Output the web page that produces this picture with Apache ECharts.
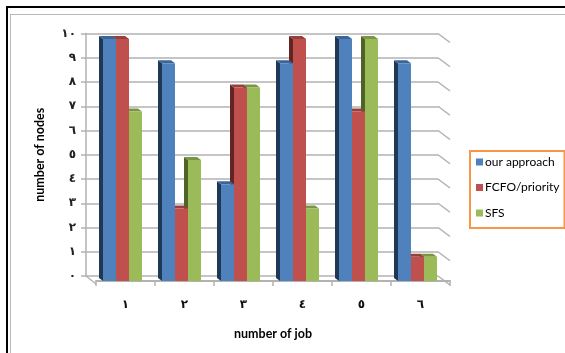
<!DOCTYPE html>
<html>
<head>
<meta charset="utf-8">
<style>html,body{margin:0;padding:0;background:#fff}#chart{width:565px;height:353px}</style>
<script src="https://cdn.jsdelivr.net/npm/echarts@6/dist/echarts.min.js"></script>
</head>
<body>
<div id="chart"></div>
<script>
// Jobs on the horizontal axis and node counts per scheduling scheme
const jobLabels = ['١', '٢', '٣', '٤', '٥', '٦'];
const nodeTickLabels = ['٠', '١', '٢', '٣', '٤', '٥', '٦', '٧', '٨', '٩', '١٠'];
const nodeTicks = [0, 1, 2, 3, 4, 5, 6, 7, 8, 9, 10];
const ourApproach = [10, 9, 4, 9, 10, 9];
const fcfoPriority = [10, 3, 8, 10, 7, 1];
const sfs = [7, 5, 8, 3, 10, 1];

const uiFont = 'Lato, "Open Sans", sans-serif';
const digitFont = '"DejaVu Sans", sans-serif';
const wallGrey = '#b2b2b2';

// Face colours for the extruded columns: front, top, left side
const palettes = [
  { front: '#4f81bd', top: '#3a6697', side: '#1f3856' },
  { front: '#c0504d', top: '#96403d', side: '#632523' },
  { front: '#9bbb59', top: '#7a9644', side: '#4f6228' }
];

const barWidth = 13;
const barInset = 7;
const depthX = 4;
const depthY = 3;

// Draws one extruded column; series index picks its slot inside the group
function columnRenderer(slot) {
  return function (params, api) {
    const band = api.size([1, 0])[0];
    const base = api.coord([api.value(0), 0]);
    const head = api.coord([api.value(0), api.value(1)]);
    const x0 = base[0] - band / 2 + barInset + slot * barWidth;
    const x1 = x0 + barWidth;
    const yb = base[1];
    const yt = head[1];
    const p = palettes[slot];
    return {
      type: 'group',
      children: [
        { type: 'polygon', shape: { points: [[x0, yt], [x0 - depthX, yt - depthY], [x0 - depthX, yb - depthY], [x0, yb]] }, style: { fill: p.side } },
        { type: 'polygon', shape: { points: [[x0, yt], [x0 - depthX, yt - depthY], [x1 - depthX, yt - depthY], [x1, yt]] }, style: { fill: p.top } },
        { type: 'rect', shape: { x: x0, y: yt, width: barWidth, height: yb - yt }, style: { fill: p.front } }
      ]
    };
  };
}

function columnSeries(name, values, slot) {
  return {
    name,
    type: 'custom',
    xAxisIndex: 1,
    yAxisIndex: 1,
    z: 10 - slot,
    itemStyle: { color: palettes[slot].front },
    renderItem: columnRenderer(slot),
    encode: { x: 0, y: 1 },
    data: values.map((v, i) => [i, v]),
    silent: true
  };
}

const chart = echarts.init(document.getElementById('chart'), null, { renderer: 'canvas' });
chart.setOption({
  animation: false,
  backgroundColor: '#ffffff',
  // Worksheet frame around the chart
  graphic: [
    { type: 'rect', shape: { x: 6, y: 6, width: 559, height: 2 }, style: { fill: '#000' } },
    { type: 'rect', shape: { x: 6, y: 6, width: 2, height: 347 }, style: { fill: '#000' } },
    { type: 'rect', shape: { x: 10, y: 14, width: 555, height: 1 }, style: { fill: '#b8b8b8' } },
    { type: 'rect', shape: { x: 10, y: 14, width: 1, height: 339 }, style: { fill: '#b8b8b8' } }
  ],
  grid: [
    // Back wall of the chart box
    { left: 86, top: 33.5, width: 352, height: 242.5 },
    // Front plane, where the columns stand
    { left: 96, top: 39, width: 354, height: 242 }
  ],
  xAxis: [
    { gridIndex: 0, type: 'value', min: 0, max: 1, show: false },
    {
      gridIndex: 1,
      type: 'category',
      data: jobLabels,
      offset: 3,
      axisLine: { lineStyle: { color: wallGrey, width: 2 } },
      axisTick: { show: true, alignWithLabel: false, length: 5, lineStyle: { color: wallGrey, width: 1.5 } },
      axisLabel: { color: '#111', fontFamily: digitFont, fontWeight: 'bold', fontSize: 12, margin: 15 },
      name: 'number of job',
      nameLocation: 'middle',
      nameGap: 43,
      nameTextStyle: { color: '#000', fontFamily: uiFont, fontWeight: 'bold', fontSize: 12.5 }
    }
  ],
  yAxis: [
    {
      gridIndex: 0,
      type: 'value',
      min: 0,
      max: 10,
      interval: 1,
      axisLine: { show: true, lineStyle: { color: wallGrey, width: 1.5 } },
      axisTick: { show: true, length: 5, lineStyle: { color: wallGrey, width: 1.5 } },
      axisLabel: {
        color: '#222',
        fontFamily: digitFont,
        fontWeight: 'bold',
        fontSize: 12,
        margin: 10,
        formatter: v => nodeTickLabels[v]
      },
      splitLine: { show: true, lineStyle: { color: wallGrey, width: 1.5 } },
      name: 'number of nodes',
      nameLocation: 'middle',
      nameRotate: 90,
      nameGap: 40,
      nameTextStyle: { color: '#000', fontFamily: uiFont, fontWeight: 'bold', fontSize: 12.5 }
    },
    { gridIndex: 1, type: 'value', min: 0, max: 10, interval: 1, show: false }
  ],
  legend: {
    orient: 'vertical',
    left: 470,
    top: 151,
    width: 93,
    data: ['our approach', 'FCFO/priority', 'SFS'],
    icon: 'rect',
    itemWidth: 7,
    itemHeight: 7,
    itemGap: 13.5,
    padding: [5, 5, 9, 6],
    borderColor: '#f79646',
    borderWidth: 2,
    textStyle: { color: '#000', fontFamily: uiFont, fontSize: 12, padding: [0, 0, 0, -3] },
    selectedMode: false
  },
  series: [
    // Side-wall strokes running forward from each gridline, plus the left floor edge
    {
      type: 'custom',
      xAxisIndex: 0,
      yAxisIndex: 0,
      z: 1,
      silent: true,
      renderItem(params, api) {
        const v = api.value(0);
        const right = api.coord([1, v]);
        const left = api.coord([0, 0]);
        const style = { stroke: wallGrey, lineWidth: 1.5, fill: null };
        const children = [
          { type: 'line', shape: { x1: right[0], y1: right[1], x2: right[0] + 12, y2: right[1] + 9 }, style }
        ];
        if (v === 0) {
          children.push({ type: 'line', shape: { x1: left[0], y1: left[1], x2: left[0] + 10, y2: left[1] + 8 }, style });
        }
        return { type: 'group', children };
      },
      encode: { y: 0 },
      data: nodeTicks.map(v => [v])
    },
    columnSeries('our approach', ourApproach, 0),
    columnSeries('FCFO/priority', fcfoPriority, 1),
    columnSeries('SFS', sfs, 2)
  ]
});
</script>
</body>
</html>
